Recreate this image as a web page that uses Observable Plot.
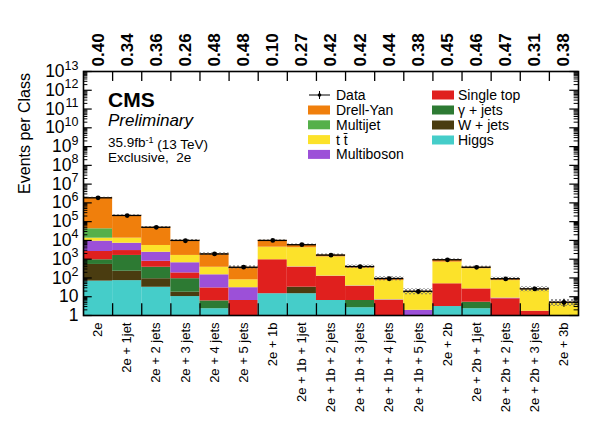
<!DOCTYPE html>
<html><head><meta charset="utf-8">
<script src="https://cdn.jsdelivr.net/npm/d3@7"></script>
<script src="https://cdn.jsdelivr.net/npm/@observablehq/plot@0.6"></script>
<style>body{margin:0;background:#fff} svg{font-family:"Liberation Sans",Arial,Helvetica,sans-serif}</style>
</head><body><div id="chart"></div>
<script>
const categories = ["2e","2e + 1jet","2e + 2 jets","2e + 3 jets","2e + 4 jets","2e + 5 jets","2e + 1b","2e + 1b + 1jet","2e + 1b + 2 jets","2e + 1b + 3 jets","2e + 1b + 4 jets","2e + 1b + 5 jets","2e + 2b","2e + 2b + 1jet","2e + 2b + 2 jets","2e + 2b + 3 jets","2e + 3b"];
const pValues = ["0.40","0.34","0.36","0.26","0.48","0.48","0.10","0.27","0.42","0.42","0.44","0.38","0.45","0.46","0.47","0.31","0.38"];
// stacked from bottom to top
const higgs      = [68, 72, 32, 10.2, 2.3, 0.4, 14.5, 14.5, 6.3, 2.6, 0.5, 0, 3.0, 2.3, 0, 0, 0];
const wjets      = [457, 157, 59, 7.2, 0, 0, 0, 17.9, 0, 0, 0, 0, 0, 0, 0, 0, 0];
const gjets      = [408, 1356, 281, 74, 3.7, 0, 0, 0, 0, 3.7, 0, 0, 0, 2.8, 0, 0, 0];
const singletop  = [1640, 1300, 404, 95, 23.5, 5.9, 918, 339, 114, 29, 5.8, 0, 46, 21, 7.8, 1.7, 0];
const multiboson = [6550, 4200, 1570, 460, 118, 24, 0, 15, 5, 2, 0.5, 1.9, 0, 0, 0.6, 0, 0];
const ttbar      = [4060, 6100, 3030, 940, 224, 49, 3430, 3690, 1190, 293, 66, 15.5, 643, 283, 64, 21.7, 4.6];
const multijet   = [28500, 0, 0, 0, 0, 0, 0, 0, 0, 0, 0, 0, 0, 0, 0, 0, 0];
const drellyan   = [1820000, 200600, 44750, 8415, 1533, 292, 5635, 1814, 342, 76, 21, 2.1, 241, 63, 19, 2.9, 0.5];
const dataCounts = [1870000, 210000, 50000, 9600, 1900, 375, 10000, 5900, 1640, 400, 91, 19, 930, 370, 89, 26, 5];
const relUnc     = [0.08, 0.08, 0.1, 0.12, 0.15, 0.2, 0.08, 0.1, 0.15, 0.2, 0.25, 0.35, 0.12, 0.15, 0.2, 0.3, 0.4];

const procs = [
  {name:"Higgs", color:"#45cdc9", values:higgs},
  {name:"W + jets", color:"#4a3c10", values:wjets},
  {name:"γ + jets", color:"#2d7a33", values:gjets},
  {name:"Single top", color:"#e0201e", values:singletop},
  {name:"Multiboson", color:"#9c50d8", values:multiboson},
  {name:"t t̄", color:"#fce22a", values:ttbar},
  {name:"Multijet", color:"#55b04a", values:multijet},
  {name:"Drell-Yan", color:"#f07f0c", values:drellyan}
];

const rects = [], totals = [];
categories.forEach((c, i) => {
  let cum = 0;
  procs.forEach(p => {
    const v = p.values[i];
    if (v > 0) rects.push({i, y1: Math.max(cum, 1e-3), y2: cum + v, color: p.color});
    cum += v;
  });
  totals.push({i, total: cum, lo: cum * (1 - relUnc[i]), hi: cum * (1 + relUnc[i])});
});
const dataPts = dataCounts.map((n, i) => ({i, n, lo: Math.max(n - Math.sqrt(n), 1e-3), hi: n + Math.sqrt(n)}));

const majors = d3.range(0, 14).map(k => 10 ** k);
const minors = [];
for (let k = 0; k < 13; k++) for (let m = 2; m <= 9; m++) minors.push(m * 10 ** k);
const lowLabels = [{v: 1, t: "1"}, {v: 10, t: "10"}];
const exp1 = d3.range(2, 10).map(k => ({v: 10 ** k, e: String(k)}));
const exp2 = d3.range(10, 14).map(k => ({v: 10 ** k, e: String(k)}));
const inner = d3.range(1, 17);
const EXP = 12.5, BASE = 17.5, PAD = 5;
const dig = 0.556 * EXP;

const chart = Plot.plot({
  width: 607, height: 448,
  marginLeft: 83, marginRight: 29, marginTop: 71, marginBottom: 133,
  x: {domain: [0, 17], axis: null},
  y: {type: "log", domain: [1, 1e13], axis: null},
  color: {type: "identity"},
  style: {background: "white", overflow: "visible", fontFamily: "'Liberation Sans',Arial,sans-serif"},
  marks: [
    Plot.rect(rects, {x1: d => d.i, x2: d => d.i + 1, y1: "y1", y2: "y2", fill: "color", clip: true}),
    Plot.rect(totals, {x1: d => d.i, x2: d => d.i + 1, y1: "lo", y2: "hi", fill: "url(#hatch)", clip: true}),
    Plot.ruleY(totals, {y: "total", x1: d => d.i, x2: d => d.i + 1, stroke: "black", strokeWidth: 1.3, clip: true}),
    Plot.ruleX(dataPts, {x: d => d.i + 0.5, y1: "lo", y2: "hi", stroke: "black", strokeWidth: 1.2, clip: true}),
    Plot.dot(dataPts, {x: d => d.i + 0.5, y: "n", r: 2.4, fill: "black"}),
    // axis ticks (inward, ROOT style)
    Plot.ruleX(inner, {x: d => d, y1: 1, y2: 10 ** 0.63, stroke: "black", strokeWidth: 1.3}),
    Plot.ruleX(inner, {x: d => d, y1: 10 ** 12.47, y2: 1e13, stroke: "black", strokeWidth: 1.3}),
    Plot.ruleY(majors, {y: d => d, x1: 0, x2: 0.3, stroke: "black", strokeWidth: 1.2}),
    Plot.ruleY(minors, {y: d => d, x1: 0, x2: 0.15, stroke: "black", strokeWidth: 1}),
    Plot.ruleY(majors, {y: d => d, x1: 16.7, x2: 17, stroke: "black", strokeWidth: 1.2}),
    Plot.ruleY(minors, {y: d => d, x1: 16.85, x2: 17, stroke: "black", strokeWidth: 1}),
    Plot.frame({stroke: "black", strokeWidth: 1.6}),
    // y tick labels: 1, 10, then 10^k with small raised exponent
    Plot.text(lowLabels, {x: 0, y: "v", text: "t", textAnchor: "end", dx: -PAD, fontSize: BASE, fill: "black"}),
    Plot.text(exp1, {x: 0, y: "v", text: () => "10", textAnchor: "end", dx: -PAD - dig, fontSize: BASE, fill: "black"}),
    Plot.text(exp2, {x: 0, y: "v", text: () => "10", textAnchor: "end", dx: -PAD - 2 * dig, fontSize: BASE, fill: "black"}),
    Plot.text(exp1.concat(exp2), {x: 0, y: "v", text: "e", textAnchor: "end", dx: -PAD, dy: -6, fontSize: EXP, fill: "black"}),
    Plot.text(categories, {x: (d, i) => i + 0.5, y: 1, text: d => d, rotate: -90, textAnchor: "end", dy: 7, fontSize: 13, fill: "black"}),
    Plot.text(pValues, {x: (d, i) => i + 0.5, y: 1e13, text: d => d, rotate: -90, textAnchor: "start", dy: -5, fontSize: 17, fontWeight: "bold", fill: "black"})
  ]
});
document.getElementById("chart").appendChild(chart);

const svg = d3.select(chart);
const defs = svg.insert("defs", ":first-child");
const pat = defs.append("pattern").attr("id", "hatch").attr("patternUnits", "userSpaceOnUse").attr("width", 4).attr("height", 4);
pat.append("path").attr("d", "M0,0L4,4M4,0L0,4").attr("stroke", "#6a6a6a").attr("stroke-width", 0.7).attr("fill", "none");

const ann = svg.append("g").attr("fill", "black").attr("text-anchor", "start").attr("font-family", "'Liberation Sans',Arial,sans-serif");
ann.append("text").attr("transform", "translate(30,73) rotate(-90)").attr("text-anchor", "end").attr("font-size", 16).text("Events per Class");
ann.append("text").attr("x", 108).attr("y", 107).attr("font-size", 21).attr("font-weight", "bold").text("CMS");
ann.append("text").attr("x", 108).attr("y", 126).attr("font-size", 17).attr("font-style", "italic").text("Preliminary");
const lumi = ann.append("text").attr("x", 108).attr("y", 147).attr("font-size", 13.5);
lumi.append("tspan").text("35.9fb");
lumi.append("tspan").attr("dy", "-0.45em").style("font-size", "9px").text("-1");
lumi.append("tspan").attr("dy", "0.45em").text(" (13 TeV)");
ann.append("text").attr("x", 108).attr("y", 162).attr("font-size", 13.5).attr("xml:space", "preserve").text("Exclusive,  2e");

// legend
const leg1 = [{name: "Drell-Yan"}, {name: "Multijet"}, {name: "t t̄"}, {name: "Multiboson"}];
const leg2 = [{name: "Single top"}, {name: "γ + jets"}, {name: "W + jets"}, {name: "Higgs"}];
const colorOf = n => procs.find(p => p.name === n).color;
const lg = svg.append("g").attr("font-size", 14).attr("fill", "black").attr("text-anchor", "start").attr("font-family", "'Liberation Sans',Arial,sans-serif");
// Data entry
lg.append("line").attr("x1", 309).attr("x2", 330).attr("y1", 95).attr("y2", 95).attr("stroke", "black").attr("stroke-width", 1);
lg.append("line").attr("x1", 319.5).attr("x2", 319.5).attr("y1", 91).attr("y2", 99).attr("stroke", "black").attr("stroke-width", 1);
lg.append("circle").attr("cx", 319.5).attr("cy", 95).attr("r", 1.8);
lg.append("text").attr("x", 336).attr("y", 95).attr("dy", "0.35em").text("Data");
leg1.forEach((d, k) => {
  const y = 110 + k * 14.8;
  lg.append("rect").attr("x", 308).attr("y", y - 4.5).attr("width", 22).attr("height", 9).attr("fill", colorOf(d.name));
  lg.append("text").attr("x", 336).attr("y", y).attr("dy", "0.35em").text(d.name);
});
leg2.forEach((d, k) => {
  const y = 95 + k * 15;
  lg.append("rect").attr("x", 432).attr("y", y - 4.5).attr("width", 22).attr("height", 9).attr("fill", colorOf(d.name));
  lg.append("text").attr("x", 458).attr("y", y).attr("dy", "0.35em").text(d.name);
});
</script>
</body></html>
